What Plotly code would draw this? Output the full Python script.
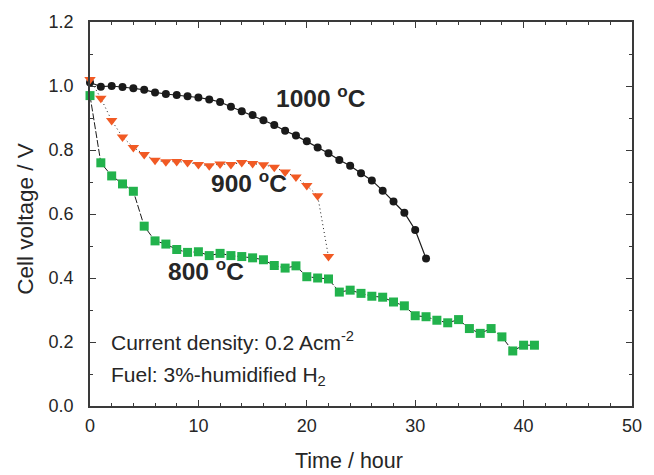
import plotly.graph_objects as go

# Cell voltage over time at three operating temperatures
t_1000 = list(range(0, 32))
v_1000 = [1.011, 0.998, 1.000, 0.997, 0.993, 0.988, 0.980, 0.975, 0.972, 0.968,
          0.964, 0.958, 0.950, 0.935, 0.921, 0.909, 0.893, 0.878, 0.860, 0.845,
          0.827, 0.808, 0.790, 0.769, 0.751, 0.727, 0.705, 0.673, 0.639, 0.604,
          0.550, 0.461]

t_900 = list(range(0, 23))
v_900 = [1.020, 0.962, 0.892, 0.841, 0.808, 0.786, 0.768, 0.763, 0.764, 0.761,
         0.755, 0.751, 0.756, 0.755, 0.761, 0.758, 0.754, 0.746, 0.731, 0.716,
         0.689, 0.657, 0.467]

t_800 = list(range(0, 42))
v_800 = [0.970, 0.760, 0.719, 0.694, 0.671, 0.562, 0.516, 0.506, 0.489, 0.480,
         0.482, 0.470, 0.477, 0.470, 0.467, 0.463, 0.457, 0.439, 0.431, 0.438,
         0.404, 0.400, 0.397, 0.356, 0.362, 0.352, 0.343, 0.340, 0.325, 0.313,
         0.282, 0.279, 0.268, 0.260, 0.270, 0.242, 0.227, 0.242, 0.216, 0.172,
         0.190, 0.190]

x_ticks = [0, 10, 20, 30, 40, 50]
y_ticks = [0.0, 0.2, 0.4, 0.6, 0.8, 1.0, 1.2]

BLACK = "#1a1a1a"
ORANGE = "#f15a24"
GREEN = "#22b24c"
AXIS = "#3a3a3a"
TEXT = "#262626"
FONT = "Liberation Sans, Arial, sans-serif"

fig = go.Figure()

fig.add_trace(go.Scatter(
    x=t_1000, y=v_1000, mode="lines+markers", cliponaxis=False,
    line=dict(color=BLACK, width=1.2),
    marker=dict(symbol="circle", size=8, color=BLACK, line=dict(width=0)),
))
fig.add_trace(go.Scatter(
    x=t_800, y=v_800, mode="lines+markers", cliponaxis=False,
    line=dict(color=BLACK, width=1, dash="7px,2px"),
    marker=dict(symbol="square", size=9, color=GREEN, line=dict(width=0)),
))
fig.add_trace(go.Scatter(
    x=t_900, y=v_900, mode="lines+markers", cliponaxis=False,
    line=dict(color=BLACK, width=1, dash="1px,3px"),
    marker=dict(symbol="triangle-down", size=10, color=ORANGE, line=dict(width=0)),
))

label_font = dict(family=FONT, size=24.5, color=TEXT)
note_font = dict(family=FONT, size=21, color=TEXT)

annotations = [
    dict(x=17.0, y=0.966, text="<b>1000 <sup>o</sup>C</b>", font=label_font),
    dict(x=11.0, y=0.702, text="<b>900 <sup>o</sup>C</b>", font=label_font),
    dict(x=7.0, y=0.428, text="<b>800 <sup>o</sup>C</b>", font=label_font),
    dict(x=1.75, y=0.202, text="Current density: 0.2 Acm<sup>-2</sup>", font=note_font),
    dict(x=1.75, y=0.095, text="Fuel: 3%-humidified H<sub>2</sub>", font=note_font),
]
for a in annotations:
    a.update(xref="x", yref="y", xanchor="left", yanchor="middle", showarrow=False)

# Axis titles, positioned in pixels then converted to paper coordinates
annotations.append(dict(
    x=350, y=462, xref="paper", yref="paper", text="Time / hour",
    xanchor="center", yanchor="middle",
    showarrow=False, font=dict(family=FONT, size=21.5, color=TEXT),
))
annotations.append(dict(
    x=25, y=216, xref="paper", yref="paper", text="Cell voltage / V", textangle=-90,
    xanchor="center", yanchor="middle",
    showarrow=False, font=dict(family=FONT, size=22.5, color=TEXT),
))

W, H = 654, 475
ML, MR, MT, MB = 90, 20, 15, 69
pw, ph = W - ML - MR, H - MT - MB
for a in annotations[-2:]:
    a["x"] = (a["x"] - ML) / pw
    a["y"] = (H - MB - a["y"]) / ph

axis_common = dict(
    showline=True, linecolor=AXIS, linewidth=1.6, mirror="allticks",
    ticks="inside", ticklen=6, tickwidth=1.2, tickcolor=AXIS,
    showgrid=False, zeroline=False,
    tickfont=dict(family=FONT, size=18, color=TEXT),
)

fig.update_layout(
    width=W, height=H,
    margin=dict(l=ML, r=MR, t=MT, b=MB),
    paper_bgcolor="white", plot_bgcolor="white",
    showlegend=False,
    annotations=annotations,
    xaxis=dict(range=[0, 50], tickvals=x_ticks, ticktext=[str(v) for v in x_ticks],
               ticklabelstandoff=3,
               minor=dict(dtick=2, ticks="inside", ticklen=3.5, tickcolor=AXIS, tickwidth=1.2),
               **axis_common),
    yaxis=dict(range=[0, 1.2], tickvals=y_ticks, ticktext=[f"{v:.1f}" for v in y_ticks],
               ticklabelstandoff=11,
               minor=dict(dtick=0.1, ticks="inside", ticklen=3.5, tickcolor=AXIS, tickwidth=1.2),
               **axis_common),
)

fig.write_html("out.html")
